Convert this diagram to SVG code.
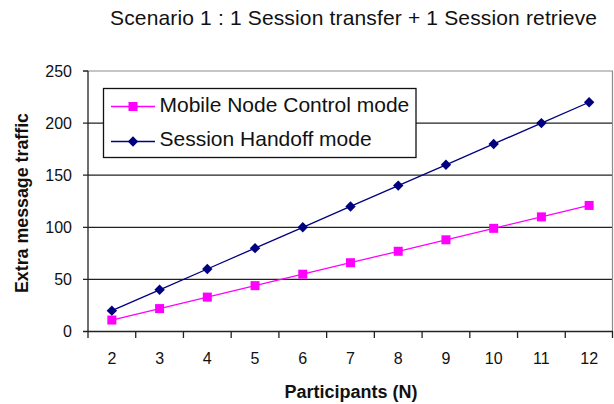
<svg xmlns="http://www.w3.org/2000/svg" width="614" height="404" viewBox="0 0 614 404">
  <defs>
    <style>
      text { font-family: "Liberation Sans", Arial, sans-serif; fill: #111; }
      .title { font-size: 21px; }
      .tick { font-size: 16px; }
      .ytick { text-anchor: end; }
      .xtick { text-anchor: middle; }
      .axis-title { font-size: 18px; font-weight: bold; text-anchor: middle; }
      .legend-text { font-size: 21px; }
      .grid { stroke: #222; stroke-width: 1.3; }
      .frame { fill: none; stroke: #8c8c8c; stroke-width: 1.2; }
      .axis { stroke: #222; stroke-width: 1.3; fill: none; }
      .s-mn { fill: none; stroke: #ff00ff; stroke-width: 1.3; }
      .s-sh { fill: none; stroke: #000080; stroke-width: 1.3; }
      .m-mn { fill: #ff00ff; }
      .m-sh { fill: #000080; }
    </style>
    <rect id="sq" x="-4.5" y="-4.5" width="9" height="9"/>
    <polygon id="dia" points="0,-5.2 5.2,0 0,5.2 -5.2,0"/>
  </defs>

  <rect width="614" height="404" fill="#fff"/>

  <!-- chart title -->
  <text class="title" x="110" y="25" textLength="487" lengthAdjust="spacing">Scenario 1 : 1 Session transfer + 1 Session retrieve</text>

  <!-- plot area: gridlines, frame and axes -->
  <g id="plot-area">
    <line class="grid" x1="88" y1="279.4" x2="613" y2="279.4"/>
    <line class="grid" x1="88" y1="227.3" x2="613" y2="227.3"/>
    <line class="grid" x1="88" y1="175.2" x2="613" y2="175.2"/>
    <line class="grid" x1="88" y1="123.1" x2="613" y2="123.1"/>
    <polyline class="frame" points="88,71 612.5,71 612.5,331.5"/>
    <!-- y axis with ticks -->
    <path class="axis" d="M88,71V331.5M83,71H88M83,123.1H88M83,175.2H88M83,227.3H88M83,279.4H88M83,331.5H88"/>
    <!-- x axis with ticks -->
    <path class="axis" d="M88,331.5H613M88,331.5V338M135.73,331.5V338M183.45,331.5V338M231.18,331.5V338M278.91,331.5V338M326.64,331.5V338M374.36,331.5V338M422.09,331.5V338M469.82,331.5V338M517.55,331.5V338M565.27,331.5V338M612.5,331.5V338"/>
  </g>

  <!-- y axis labels -->
  <g id="y-axis-labels">
    <text class="tick ytick" x="72" y="77">250</text>
    <text class="tick ytick" x="72" y="129">200</text>
    <text class="tick ytick" x="72" y="181">150</text>
    <text class="tick ytick" x="72" y="233">100</text>
    <text class="tick ytick" x="72" y="285">50</text>
    <text class="tick ytick" x="72" y="337">0</text>
  </g>

  <!-- x axis labels -->
  <g id="x-axis-labels">
    <text class="tick xtick" x="111.86" y="364">2</text>
    <text class="tick xtick" x="159.59" y="364">3</text>
    <text class="tick xtick" x="207.32" y="364">4</text>
    <text class="tick xtick" x="255.05" y="364">5</text>
    <text class="tick xtick" x="302.77" y="364">6</text>
    <text class="tick xtick" x="350.5" y="364">7</text>
    <text class="tick xtick" x="398.23" y="364">8</text>
    <text class="tick xtick" x="445.95" y="364">9</text>
    <text class="tick xtick" x="493.68" y="364">10</text>
    <text class="tick xtick" x="541.41" y="364">11</text>
    <text class="tick xtick" x="589.14" y="364">12</text>
  </g>

  <text class="axis-title" transform="translate(28,203) rotate(-90)" textLength="180" lengthAdjust="spacingAndGlyphs">Extra message traffic</text>
  <text class="axis-title" x="351" y="398">Participants (N)</text>

  <!-- data series -->
  <g id="connectors">
    <polyline class="s-mn" points="111.86,320.04 159.59,308.58 207.32,297.11 255.05,285.65 302.77,274.19 350.5,262.73 398.23,251.27 445.95,239.8 493.68,228.34 541.41,216.88 589.14,205.42"/>
    <polyline class="s-sh" points="111.86,310.66 159.59,289.82 207.32,268.98 255.05,248.14 302.77,227.3 350.5,206.46 398.23,185.62 445.95,164.78 493.68,143.94 541.41,123.1 589.14,102.26"/>
  </g>

  <g id="series-mobile-node-control" class="m-mn">
    <use href="#sq" x="111.86" y="320.04"/>
    <use href="#sq" x="159.59" y="308.58"/>
    <use href="#sq" x="207.32" y="297.11"/>
    <use href="#sq" x="255.05" y="285.65"/>
    <use href="#sq" x="302.77" y="274.19"/>
    <use href="#sq" x="350.5" y="262.73"/>
    <use href="#sq" x="398.23" y="251.27"/>
    <use href="#sq" x="445.95" y="239.8"/>
    <use href="#sq" x="493.68" y="228.34"/>
    <use href="#sq" x="541.41" y="216.88"/>
    <use href="#sq" x="589.14" y="205.42"/>
  </g>

  <g id="series-session-handoff" class="m-sh">
    <use href="#dia" x="111.86" y="310.66"/>
    <use href="#dia" x="159.59" y="289.82"/>
    <use href="#dia" x="207.32" y="268.98"/>
    <use href="#dia" x="255.05" y="248.14"/>
    <use href="#dia" x="302.77" y="227.3"/>
    <use href="#dia" x="350.5" y="206.46"/>
    <use href="#dia" x="398.23" y="185.62"/>
    <use href="#dia" x="445.95" y="164.78"/>
    <use href="#dia" x="493.68" y="143.94"/>
    <use href="#dia" x="541.41" y="123.1"/>
    <use href="#dia" x="589.14" y="102.26"/>
  </g>

  <!-- legend -->
  <g id="legend">
    <rect x="103.5" y="88.5" width="312.5" height="69" fill="#fff" stroke="#111" stroke-width="1.3"/>
    <line class="s-mn" x1="111" y1="106.5" x2="155" y2="106.5"/>
    <use href="#sq" x="133" y="106.5" class="m-mn"/>
    <text class="legend-text" x="159.5" y="111.5">Mobile Node Control mode</text>
    <line class="s-sh" x1="111" y1="141.5" x2="155" y2="141.5"/>
    <use href="#dia" x="133" y="141.5" class="m-sh"/>
    <text class="legend-text" x="159.5" y="145.5">Session Handoff mode</text>
  </g>
</svg>
